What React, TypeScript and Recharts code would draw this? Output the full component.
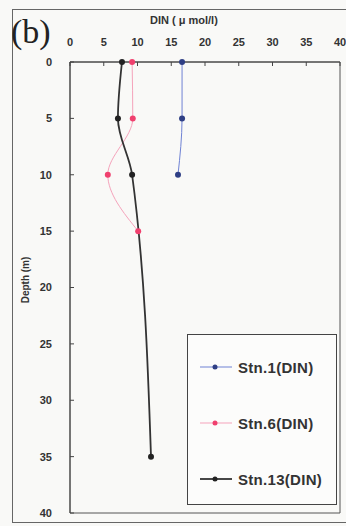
import {
  LineChart,
  Line,
  XAxis,
  YAxis,
  ReferenceArea
} from 'recharts';

// depth profiles of DIN (µmol/l) per station
const stn1Depth = [0, 5, 10];
const stn1Din = [16.6, 16.6, 16.0];

const stn6Depth = [0, 5, 10, 15];
const stn6Din = [9.2, 9.3, 5.6, 10.1];

const stn13Depth = [0, 5, 10, 35];
const stn13Din = [7.7, 7.1, 9.2, 12.0];

const dinTicks = [0, 5, 10, 15, 20, 25, 30, 35, 40];
const depthTicks = [0, 5, 10, 15, 20, 25, 30, 35, 40];

const toRows = (depth: number[], din: number[]) =>
  depth.map((d, i) => ({ depth: d, din: din[i] }));

const series = [
  { name: 'Stn.1(DIN)', data: toRows(stn1Depth, stn1Din), line: '#6f82d4', dot: '#2f3f85', width: 1 },
  { name: 'Stn.6(DIN)', data: toRows(stn6Depth, stn6Din), line: '#f5a3bb', dot: '#f0406e', width: 1 },
  { name: 'Stn.13(DIN)', data: toRows(stn13Depth, stn13Din), line: '#333333', dot: '#222222', width: 1.8 }
];

const font = 'Arial, "Liberation Sans", sans-serif';
const tickStyle = { fontSize: 11, fontWeight: 700, fill: '#333', fontFamily: font };

// legend is drawn as a plain box over the plot so it doesn't eat into the plot area
function LegendBox() {
  return (
    <div
      style={{
        position: 'absolute',
        left: 187,
        top: 334,
        width: 150,
        height: 171,
        border: '1.5px solid #444',
        background: '#fcfcfb',
        boxSizing: 'border-box',
        paddingTop: 4,
        fontFamily: font
      }}
    >
      {series.map(s => (
        <div key={s.name} style={{ display: 'flex', alignItems: 'center', height: 56 }}>
          <svg width={40} height={10} style={{ marginLeft: 10 }}>
            <line x1={2} x2={34} y1={5} y2={5} stroke={s.line} strokeWidth={s.width} />
            <circle cx={17} cy={5} r={2.5} fill={s.dot} />
          </svg>
          <span style={{ fontSize: 15, fontWeight: 700, color: '#333', letterSpacing: 0.3 }}>{s.name}</span>
        </div>
      ))}
    </div>
  );
}

export default function App() {
  return (
    <div style={{ position: 'absolute', left: 0, top: 0, width: 346, height: 526, background: '#f9f9f7' }}>
      <div
        style={{
          position: 'absolute',
          left: 12,
          top: 9,
          width: 346,
          height: 514,
          border: '1.5px solid #666',
          boxSizing: 'border-box'
        }}
      />
      <div style={{ position: 'absolute', left: 11, top: 13, fontFamily: '"Liberation Serif", serif', fontSize: 34, color: '#222' }}>
        (b)
      </div>
      <div style={{ position: 'absolute', left: 150, top: 14, fontFamily: font, fontSize: 11, fontWeight: 700, color: '#333' }}>
        DIN ( μ mol/l)
      </div>
      <div
        style={{
          position: 'absolute',
          left: 25,
          top: 280,
          transform: 'translate(-50%, -50%) rotate(-90deg)',
          fontFamily: font,
          fontSize: 10,
          fontWeight: 700,
          color: '#333',
          whiteSpace: 'nowrap'
        }}
      >
        Depth (m)
      </div>
      <LineChart
        layout='vertical'
        width={346}
        height={526}
        margin={{ top: 42, right: 6, bottom: 13, left: 20 }}
        style={{ position: 'absolute', left: 0, top: 0 }}
      >
        <XAxis
          type='number'
          dataKey='din'
          orientation='top'
          domain={[0, 40]}
          ticks={dinTicks}
          height={20}
          tickSize={-4}
          tickMargin={20}
          stroke='#444'
          tick={tickStyle}
        />
        <YAxis
          type='number'
          dataKey='depth'
          domain={[0, 40]}
          ticks={depthTicks}
          width={50}
          tickSize={-4}
          tickMargin={22}
          stroke='#444'
          tick={tickStyle}
        />
        <ReferenceArea x1={0} x2={40} y1={0} y2={40} fill='none' stroke='#555' strokeWidth={1} />
        {series.map(s => (
          <Line
            key={s.name}
            data={s.data}
            dataKey='din'
            name={s.name}
            type='monotone'
            stroke={s.line}
            strokeWidth={s.width}
            dot={{ r: 3, fill: s.dot, stroke: s.dot, strokeWidth: 0 }}
            isAnimationActive={false}
          />
        ))}
      </LineChart>
      <LegendBox />
    </div>
  );
}
